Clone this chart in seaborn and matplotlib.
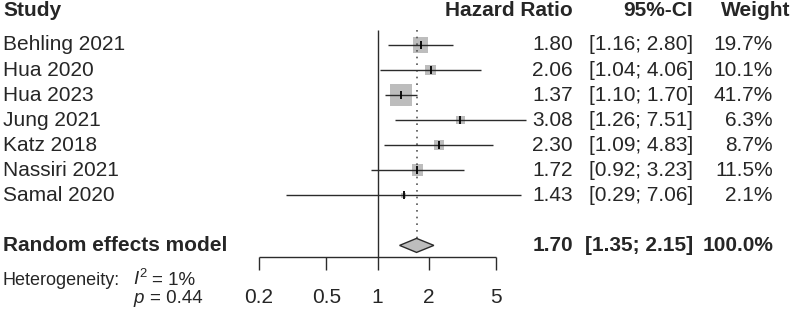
import numpy as np
import pandas as pd
import matplotlib
matplotlib.use("Agg")
import matplotlib.pyplot as plt
import seaborn as sns

################ DATA ################
studies = ["Behling 2021", "Hua 2020", "Hua 2023", "Jung 2021",
           "Katz 2018", "Nassiri 2021", "Samal 2020"]
hr = [1.80, 2.06, 1.37, 3.08, 2.30, 1.72, 1.43]
ci_low = [1.16, 1.04, 1.10, 1.26, 1.09, 0.92, 0.29]
ci_high = [2.80, 4.06, 1.70, 7.51, 4.83, 3.23, 7.06]
weights = [19.7, 10.1, 41.7, 6.3, 8.7, 11.5, 2.1]

re_label = "Random effects model"
re_hr = 1.70
re_low = 1.35
re_high = 2.15
re_weight = 100.0

i2 = 1
p_het = 0.44
ticks = [0.2, 0.5, 1, 2, 5]

df = pd.DataFrame({"study": studies, "hr": hr, "lo": ci_low, "hi": ci_high,
                   "w": weights})
df["row"] = np.arange(len(df))
re_row = len(df) + 1

################ STYLE ################
sns.set_theme(style="white")
plt.rcParams["font.family"] = ["Liberation Sans", "DejaVu Sans"]
plt.rcParams["mathtext.fontset"] = "custom"
plt.rcParams["mathtext.rm"] = "Liberation Sans"
plt.rcParams["mathtext.it"] = "Liberation Sans:italic"

W, H = 796, 309
px_one = 377.5      # pixel of HR = 1
px_dec = 169.5      # pixels per decade
row0, row_h = 45, 25.05

fig = plt.figure(figsize=(W / 100, H / 100), dpi=100)
ax = fig.add_axes([0, 0, 1, 1])
ax.set_xscale("log")
ax.set_xlim(10 ** (-px_one / px_dec), 10 ** ((W - px_one) / px_dec))
ax.set_ylim((H - row0) / row_h, -row0 / row_h)
ax.axis("off")

tr = ax.get_yaxis_transform()   # x in axes fraction, y in rows
fs = 15
line_col = "#2b2b2b"
box_col = "#bdbdbd"

################ STUDY MARKERS ################
k = 6.0
sns.scatterplot(data=df, x="hr", y="row", size="w",
                sizes=(k * min(weights), k * max(weights)),
                size_norm=(min(weights), max(weights)),
                marker="s", color=box_col, linewidth=0, legend=False,
                ax=ax, zorder=2)
ax.hlines(df["row"], df["lo"], df["hi"], color=line_col, lw=1.0, zorder=3)
ax.plot(df["hr"], df["row"], marker="|", ls="none", ms=6, mew=1.3,
        color="black", zorder=4)

# reference lines
top = -0.6
axis_y = 8.46
ax.vlines(1, top, axis_y, color=line_col, lw=1.0)
dh = 0.28
ax.vlines(re_hr, top, re_row - dh, color="#555555", lw=1.2,
          ls=(0, (1, 3)))

# summary diamond
ax.fill([re_low, re_hr, re_high, re_hr],
        [re_row, re_row - dh, re_row, re_row + dh],
        facecolor=box_col, edgecolor=line_col, lw=1.0, zorder=3)

# x axis
ax.hlines(axis_y, min(ticks), max(ticks), color=line_col, lw=1.0)
ax.vlines(ticks, axis_y, axis_y + 0.52, color=line_col, lw=1.0)
for t in ticks:
    ax.text(t, 10.07, f"{t:g}", ha="center", va="center", fontsize=fs)

################ TEXT COLUMNS ################
x_study = 3 / W
x_hr = 573 / W
x_ci = 693 / W
x_w = 773 / W

hdr_y = -1.36
ax.text(x_study, hdr_y, "Study", transform=tr, ha="left", va="center",
        fontsize=fs, fontweight="bold")
ax.text(x_hr, hdr_y, "Hazard Ratio", transform=tr, ha="right", va="center",
        fontsize=fs, fontweight="bold")
ax.text(x_ci, hdr_y, "95%-CI", transform=tr, ha="right", va="center",
        fontsize=fs, fontweight="bold")
ax.text(790 / W, hdr_y, "Weight", transform=tr, ha="right", va="center",
        fontsize=fs, fontweight="bold")

for _, r in df.iterrows():
    ax.text(x_study, r["row"], r["study"], transform=tr, ha="left",
            va="center", fontsize=fs)
    ax.text(x_hr, r["row"], f"{r['hr']:.2f}", transform=tr, ha="right",
            va="center", fontsize=fs)
    ax.text(x_ci, r["row"], f"[{r['lo']:.2f}; {r['hi']:.2f}]", transform=tr,
            ha="right", va="center", fontsize=fs)
    ax.text(x_w, r["row"], f"{r['w']:.1f}%", transform=tr, ha="right",
            va="center", fontsize=fs)

ax.text(x_study, re_row, re_label, transform=tr, ha="left", va="center",
        fontsize=fs, fontweight="bold")
ax.text(x_hr, re_row, f"{re_hr:.2f}", transform=tr, ha="right", va="center",
        fontsize=fs, fontweight="bold")
ax.text(x_ci, re_row, f"[{re_low:.2f}; {re_high:.2f}]", transform=tr,
        ha="right", va="center", fontsize=fs, fontweight="bold")
ax.text(x_w, re_row, f"{re_weight:.1f}%", transform=tr, ha="right",
        va="center", fontsize=fs, fontweight="bold")

# heterogeneity
het_base = 9.58
p_base = 10.3
ax.text(x_study, het_base, "Heterogeneity:", transform=tr, ha="left",
        va="baseline", fontsize=13)
ax.text(133 / W, het_base, "$I^2$", transform=tr, ha="left",
        va="baseline", fontsize=13.5)
ax.text(195 / W, het_base, f"= {i2}%", transform=tr, ha="right",
        va="baseline", fontsize=13.5)
ax.text(133 / W, p_base, "p", transform=tr, ha="left", va="baseline",
        fontsize=13.5, fontstyle="italic")
ax.text(203 / W, p_base, f"= {p_het:.2f}", transform=tr, ha="right",
        va="baseline", fontsize=13.5)

fig.savefig("out.png", dpi=100)
